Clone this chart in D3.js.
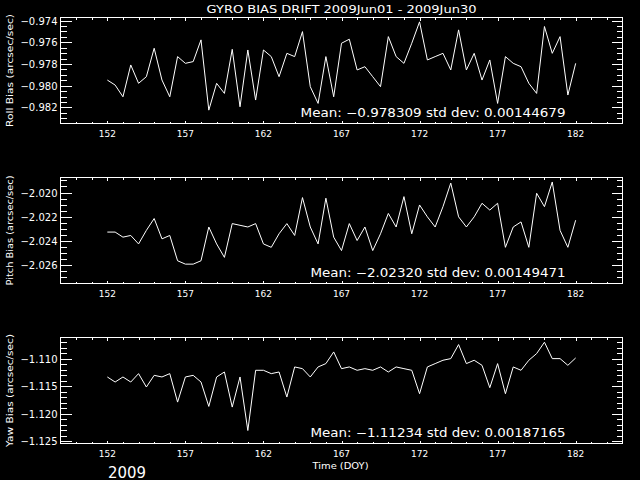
<!DOCTYPE html>
<html>
<head>
<meta charset="utf-8">
<script src="https://cdn.jsdelivr.net/npm/d3@7"></script>
<style>
  body { margin: 0; background: #000; }
  svg { display: block; }
  text { fill: #fff; font-family: "DejaVu Sans", sans-serif; }
</style>
</head>
<body>
<div id="vis"></div>
<script>
// sampling of the gyro bias series (day of year)
var startDay = 152, stepDay = 0.5;

var rollBias = [-0.97948, -0.97994, -0.98102, -0.97809, -0.97978, -0.97917, -0.97655, -0.97948,
  -0.98102, -0.97732, -0.97794, -0.97778, -0.97578, -0.98225, -0.97978, -0.98071, -0.97665,
  -0.98194, -0.97671, -0.98132, -0.97671, -0.97732, -0.97917, -0.97702, -0.97732, -0.97502,
  -0.98009, -0.98163, -0.97732, -0.98102, -0.97609, -0.97572, -0.97855, -0.97825, -0.97917,
  -0.98009, -0.97548, -0.97732, -0.97794, -0.97609, -0.97412, -0.97763, -0.97732, -0.97702,
  -0.97855, -0.97486, -0.97855, -0.97702, -0.97948, -0.97763, -0.98163, -0.97732, -0.97794,
  -0.97825, -0.97978, -0.98071, -0.97455, -0.97702, -0.97548, -0.98086, -0.97794];

var pitchBias = [-2.02327, -2.02327, -2.02369, -2.02355, -2.02425, -2.02313, -2.02215, -2.02383,
  -2.02355, -2.02564, -2.02592, -2.02592, -2.02564, -2.02285, -2.02425, -2.02536, -2.02257,
  -2.02271, -2.02285, -2.02257, -2.02425, -2.02453, -2.02341, -2.02257, -2.02355, -2.02042,
  -2.02285, -2.02425, -2.02047, -2.02369, -2.02480, -2.02257, -2.02397, -2.02285, -2.02480,
  -2.02341, -2.02173, -2.02285, -2.02034, -2.02341, -2.02103, -2.02201, -2.02285, -2.02117,
  -2.01922, -2.02201, -2.02285, -2.02201, -2.02089, -2.02145, -2.02089, -2.02453, -2.02285,
  -2.02243, -2.02453, -2.02006, -2.02117, -2.01913, -2.02313, -2.02453, -2.02229];

var yawBias = [-1.11329, -1.11421, -1.11329, -1.11421, -1.11268, -1.11512, -1.11299, -1.11329,
  -1.11268, -1.11787, -1.11329, -1.11299, -1.11421, -1.11866, -1.11329, -1.11238, -1.11878,
  -1.11329, -1.12305, -1.11207, -1.11207, -1.11268, -1.11238, -1.11695, -1.11146, -1.11177,
  -1.11329, -1.11146, -1.11085, -1.10872, -1.11177, -1.11146, -1.11207, -1.11177, -1.11207,
  -1.11146, -1.11238, -1.11146, -1.11177, -1.11207, -1.11634, -1.11146, -1.11085, -1.11024,
  -1.10994, -1.10738, -1.11085, -1.11024, -1.11116, -1.11524, -1.11085, -1.11634, -1.11146,
  -1.11207, -1.11024, -1.10902, -1.10695, -1.10994, -1.10994, -1.11116, -1.10982];

var xTicks = [152, 157, 162, 167, 172, 177, 182];
var rollTicks = [-0.974, -0.976, -0.978, -0.980, -0.982];
var pitchTicks = [-2.020, -2.022, -2.024, -2.026];
var yawTicks = [-1.110, -1.115, -1.120, -1.125];

var titleText = "GYRO BIAS DRIFT 2009Jun01 - 2009Jun30";
var yLabels = ["Roll Bias (arcsec/sec)", "Pitch Bias (arcsec/sec)", "Yaw Bias (arcsec/sec)"];
var meanLabels = ["Mean: \u22120.978309 std dev: 0.00144679",
  "Mean: \u22122.02320 std dev: 0.00149471",
  "Mean: \u22121.11234 std dev: 0.00187165"];

var panels = [
  { values: rollBias, domain: [-0.98348, -0.97372], ticks: rollTicks, minor: 0.0005, label: yLabels[0], mean: meanLabels[0], meanLen: 265, labLen: 113 },
  { values: pitchBias, domain: [-2.02752, -2.01876], ticks: pitchTicks, minor: 0.0005, label: yLabels[1], mean: meanLabels[1], meanLen: 255, labLen: 110 },
  { values: yawBias, domain: [-1.12542, -1.10609], ticks: yawTicks, minor: 0.001, label: yLabels[2], mean: meanLabels[2], meanLen: 255, labLen: 113 }
];

var width = 640, height = 480;
var left = 60.5, right = 622.5;
var panelTop = 17.5, panelH = 106, panelGap = 160;

var svg = d3.select("#vis").append("svg")
    .attr("width", width)
    .attr("height", height)
    .style("background", "#000");

var x = d3.scaleLinear()
    .domain([149, 185])
    .range([left, right]);

svg.append("text")
    .attr("x", 341.5)
    .attr("y", 12.5)
    .attr("text-anchor", "middle")
    .attr("font-size", 10)
    .attr("textLength", 270)
    .attr("lengthAdjust", "spacingAndGlyphs")
    .text(titleText);

var fmt = d3.format(".3f");

panels.forEach(function(p, i) {
    var top = panelTop + i * panelGap,
        bottom = top + panelH;

    var y = d3.scaleLinear()
        .domain(p.domain)
        .range([bottom, top]);

    var g = svg.append("g");

    // minor ticks every day on x, every p.minor on y
    var xMinor = d3.range(150, 185);
    var lo = Math.ceil(p.domain[0] / p.minor - 1e-6),
        hi = Math.floor(p.domain[1] / p.minor + 1e-6);
    var yMinor = d3.range(lo, hi + 1).map(function(k) { return k * p.minor; });

    var ticks = g.append("g")
        .attr("stroke", "#fff")
        .attr("stroke-width", 1)
        .attr("shape-rendering", "crispEdges");

    xMinor.forEach(function(d) {
        var len = xTicks.indexOf(d) >= 0 ? 3 : 2;
        var px = Math.round(x(d)) + 0.5;
        ticks.append("line").attr("x1", px).attr("x2", px).attr("y1", bottom).attr("y2", bottom - len);
        ticks.append("line").attr("x1", px).attr("x2", px).attr("y1", top).attr("y2", top + len);
    });

    yMinor.forEach(function(d) {
        var major = p.ticks.some(function(t) { return Math.abs(t - d) < p.minor / 10; });
        var len = major ? 11 : 6;
        var py = Math.round(y(d)) + 0.5;
        ticks.append("line").attr("x1", left).attr("x2", left + len).attr("y1", py).attr("y2", py);
        ticks.append("line").attr("x1", right).attr("x2", right - len).attr("y1", py).attr("y2", py);
    });

    g.append("rect")
        .attr("x", left)
        .attr("y", top)
        .attr("width", right - left)
        .attr("height", bottom - top)
        .attr("fill", "none")
        .attr("stroke", "#fff")
        .attr("shape-rendering", "crispEdges");

    // y tick labels
    g.selectAll(".ylab")
        .data(p.ticks)
        .enter().append("text")
        .attr("x", 57.5)
        .attr("y", function(d) { return Math.round(y(d)) + 4; })
        .attr("text-anchor", "end")
        .attr("font-size", 10)
        .text(function(d) { return fmt(d); });

    // x tick labels
    g.selectAll(".xlab")
        .data(xTicks)
        .enter().append("text")
        .attr("x", function(d) { return x(d); })
        .attr("y", bottom + 13.5)
        .attr("text-anchor", "middle")
        .attr("font-size", 9)
        .text(function(d) { return d; });

    // y axis title
    g.append("text")
        .attr("transform", "translate(12.5," + ((top + bottom) / 2) + ") rotate(-90)")
        .attr("text-anchor", "middle")
        .attr("font-size", 9.5)
        .attr("textLength", p.labLen)
        .attr("lengthAdjust", "spacingAndGlyphs")
        .text(p.label);

    var line = d3.line()
        .x(function(d, j) { return x(startDay + j * stepDay); })
        .y(function(d) { return y(d); });

    g.append("path")
        .datum(p.values)
        .attr("fill", "none")
        .attr("stroke", "#fff")
        .attr("stroke-width", 1)
        .attr("d", line);

    g.append("text")
        .attr("x", 565.5)
        .attr("y", bottom - 6.5)
        .attr("text-anchor", "end")
        .attr("font-size", 12)
        .attr("textLength", p.meanLen)
        .attr("lengthAdjust", "spacingAndGlyphs")
        .text(p.mean);
});

svg.append("text")
    .attr("x", 340.5)
    .attr("y", 469)
    .attr("text-anchor", "middle")
    .attr("font-size", 9.5)
    .attr("textLength", 56)
    .attr("lengthAdjust", "spacingAndGlyphs")
    .text("Time (DOY)");

svg.append("text")
    .attr("x", 108)
    .attr("y", 477.5)
    .attr("font-size", 15)
    .attr("textLength", 38)
    .attr("lengthAdjust", "spacingAndGlyphs")
    .text("2009");
</script>
</body>
</html>
